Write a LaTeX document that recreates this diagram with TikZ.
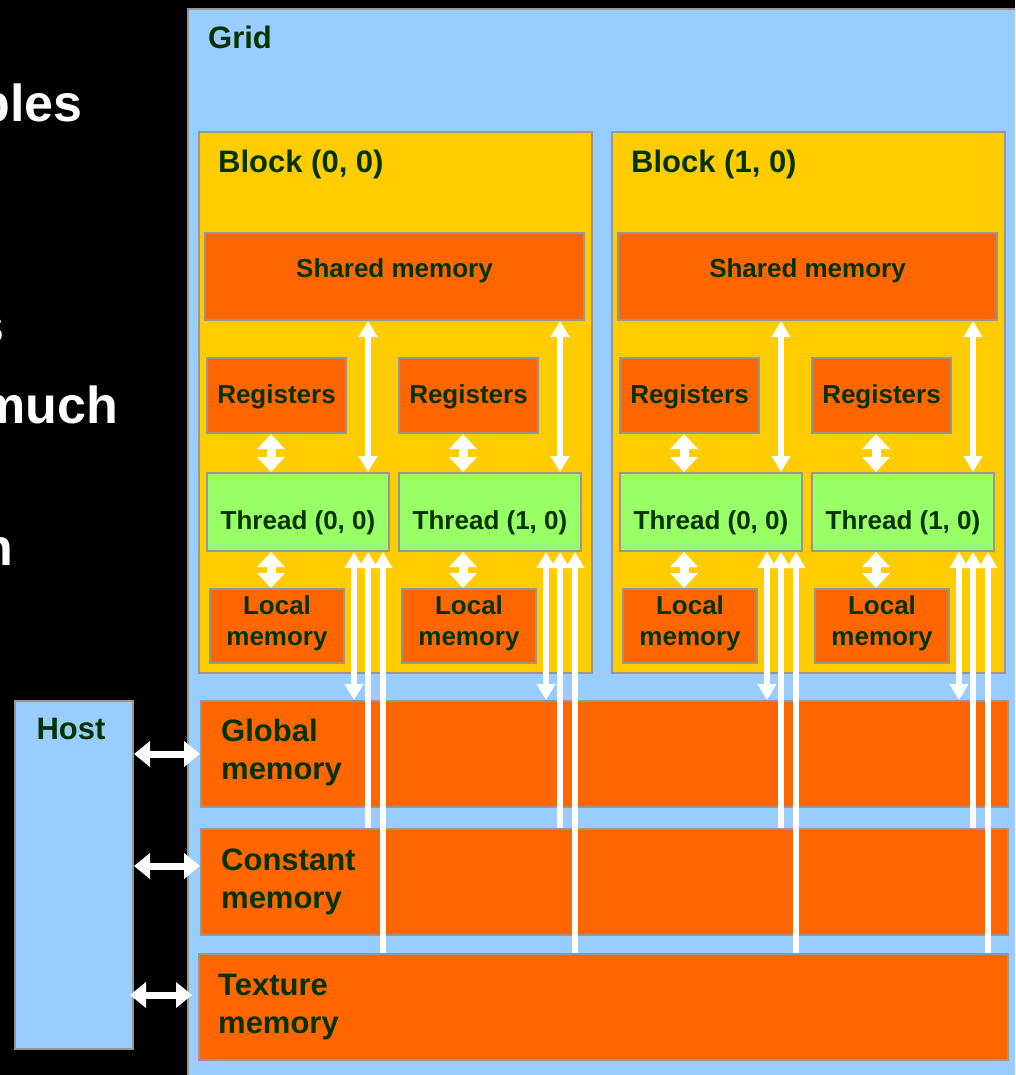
\documentclass[tikz,border=0pt]{standalone}
\usepackage{fontspec}
\setmainfont{Liberation Sans}
\usetikzlibrary{arrows.meta, calc}
\definecolor{gridblue}{RGB}{153,204,255}
\definecolor{blockyellow}{RGB}{255,204,0}
\definecolor{memorange}{RGB}{255,102,0}
\definecolor{threadgreen}{RGB}{153,255,102}
\definecolor{edgegray}{RGB}{150,150,150}
\definecolor{txtgreen}{RGB}{0,51,0}

\begin{document}
\begin{tikzpicture}[
    x=1pt, y=-1pt,
    box/.style={draw=edgegray, line width=2pt, anchor=north west, inner sep=0pt},
    gridbox/.style={box, fill=gridblue},
    blockbox/.style={box, fill=blockyellow},
    membox/.style={box, fill=memorange},
    thrbox/.style={box, fill=threadgreen},
    lbl/.style={text=txtgreen, font=\bfseries\fontsize{26}{31}\selectfont, inner sep=0pt, align=center, anchor=base},
    biglbl/.style={text=txtgreen, font=\bfseries\fontsize{31}{38}\selectfont, inner sep=0pt, align=left, anchor=base west},
    slide/.style={text=white, font=\bfseries\fontsize{52}{60}\selectfont, inner sep=0pt, anchor=base east},
    arr/.style={white, line width=5.5pt, >={Triangle[length=16pt,width=18pt]}},
    fatarr/.style={<->, white, line width=9pt, >={Triangle[length=15pt,width=27pt]}},
    hostarr/.style={<->, white, line width=7pt, >={Triangle[length=16pt,width=25pt]}}
  ]
\useasboundingbox (0,0) rectangle (1015,1075);
\clip (0,0) rectangle (1015,1075);
\fill[black] (0,0) rectangle (1015,1075);

% cut-off slide text on the left
\node[slide] (w1) at (83,122) {bles};
\node[slide] (w2) at (5,343) {s};
\node[slide] (w3) at (118,423) {much};
\node[slide] (w4) at (13,565) {n};

% grid
\node[gridbox, minimum width=840pt, minimum height=1080pt] (grid) at (187,8) {};
\node[biglbl] (gridlbl) at (208,49) {Grid};

% device memories (label base = last line)
\node[membox, minimum width=807pt, minimum height=106pt] (glob) at (200,700) {};
\node[membox, minimum width=807pt, minimum height=106pt] (const) at (200,828) {};
\node[membox, minimum width=809pt, minimum height=106pt] (tex) at (198,953) {};
\node[biglbl] (globlbl) at ($(glob.north west)+(21,79)$) {Global\\memory};
\node[biglbl] (constlbl) at ($(const.north west)+(21,80)$) {Constant\\memory};
\node[biglbl] (texlbl) at ($(tex.north west)+(20,80)$) {Texture\\memory};

% host
\node[gridbox, minimum width=118pt, minimum height=348pt] (host) at (14,700) {};
\node[biglbl, anchor=base] (hostlbl) at ($(host.north)+(-3,39)$) {Host};
\draw[hostarr] (host.east |- glob.west) -- (glob.west);
\draw[hostarr] (host.east |- 0,866) -- (const.west |- 0,866);
\draw[hostarr] ([xshift=-4pt]host.east |- 0,995) -- ([xshift=-6pt]tex.west |- 0,995);

% blocks
\foreach \b [evaluate=\b as \bx using 198+413*\b] in {0,1}{
  \node[blockbox, minimum width=393pt, minimum height=541pt] (blk\b) at (\bx,131) {};
  \node[biglbl] (blklbl\b) at ($(blk\b.north west)+(20,42)$) {Block (\b, 0)};
  \node[membox, minimum width=379pt, minimum height=87pt] (sh\b) at (\bx+6,232) {};
  \node[lbl] (shlbl\b) at ($(sh\b.north)+(0,45)$) {Shared memory};
  \foreach \t [evaluate=\t as \tx using \bx+8+192*\t] in {0,1}{
    \node[membox, minimum width=139pt, minimum height=75pt] (reg\b\t) at (\tx,357) {};
    \node[lbl] (reglbl\b\t) at ($(reg\b\t.north)+(0,46)$) {Registers};
    \node[thrbox, minimum width=182pt, minimum height=78pt] (thr\b\t) at (\tx,472) {};
    \node[lbl] (thrlbl\b\t) at ($(thr\b\t.north)+(0,57)$) {Thread (\t, 0)};
    \node[membox, minimum width=134pt, minimum height=74pt] (loc\b\t) at (\tx+3,588) {};
    \node[lbl] (loclbl\b\t) at ($(loc\b\t.north)+(0,57)$) {Local\\memory};
    % per-thread data paths
    \draw[fatarr] ([xshift=65pt]thr\b\t.north west |- reg\b\t.south) -- ([xshift=65pt]thr\b\t.north west);
    \draw[fatarr] ([xshift=65pt]thr\b\t.south west) -- ([xshift=65pt]thr\b\t.south west |- loc\b\t.north);
    \draw[arr, <->] ([xshift=-22pt]thr\b\t.north east |- sh\b.south) -- ([xshift=-22pt]thr\b\t.north east);
    \draw[arr, <->] ([xshift=-36pt]thr\b\t.south east) -- ([xshift=-36pt]thr\b\t.south east |- glob.north);
    \draw[arr, ->] ([xshift=-22pt]thr\b\t.south east |- const.north) -- ([xshift=-22pt]thr\b\t.south east);
    \draw[arr, ->] ([xshift=-7pt]thr\b\t.south east |- tex.north) -- ([xshift=-7pt]thr\b\t.south east);
  }
}
\end{tikzpicture}
\end{document}
